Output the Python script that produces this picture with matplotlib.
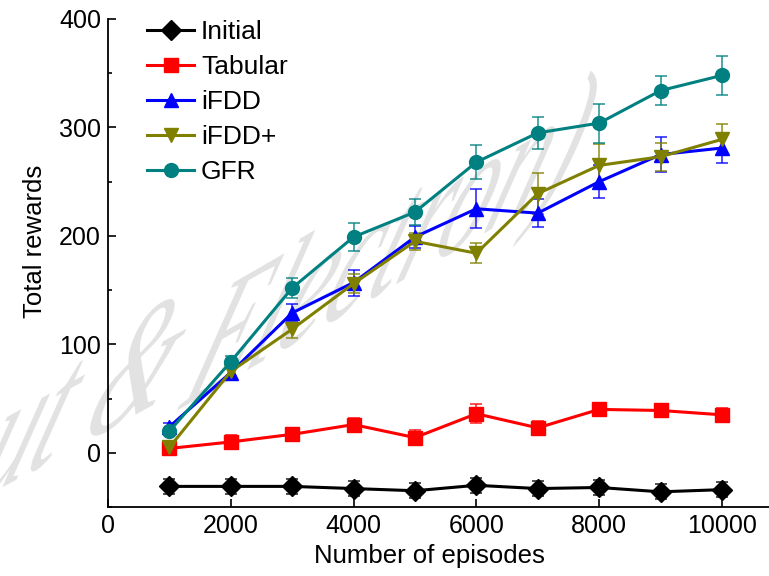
import matplotlib
matplotlib.use('Agg')
import matplotlib.pyplot as plt
from matplotlib.textpath import TextPath
from matplotlib.patches import PathPatch
from matplotlib.font_manager import FontProperties
from matplotlib.transforms import Affine2D

plt.rcParams['font.family'] = ['Liberation Sans', 'DejaVu Sans']

episodes = [1000, 2000, 3000, 4000, 5000, 6000, 7000, 8000, 9000, 10000]

initial = [-31, -31, -31, -33, -35, -30, -33, -32, -36, -34]
initial_err = [7, 7, 7, 7, 7, 7, 7, 7, 7, 7]

tabular = [4, 10, 17, 26, 14, 36, 23, 40, 39, 35]
tabular_err = [6, 6, 6, 6, 7, 9, 6, 6, 6, 6]

ifdd = [24, 74, 129, 157, 199, 225, 221, 250, 275, 281]
ifdd_err = [3, 4, 8, 12, 10, 18, 13, 15, 16, 14]

ifdd_plus = [5, 75, 114, 156, 195, 184, 239, 265, 273, 289]
ifdd_plus_err = [3, 4, 8, 9, 8, 9, 19, 20, 13, 14]

gfr = [20, 84, 152, 199, 222, 268, 295, 304, 334, 348]
gfr_err = [3, 5, 9, 13, 12, 16, 15, 18, 13, 18]

series = [
    ('Initial', initial, initial_err, 'black', 'D'),
    ('Tabular', tabular, tabular_err, '#ff0000', 's'),
    ('iFDD', ifdd, ifdd_err, '#0000ff', '^'),
    ('iFDD+', ifdd_plus, ifdd_plus_err, '#808000', 'v'),
    ('GFR', gfr, gfr_err, '#008080', 'o'),
]

W, H = 769, 576
fig = plt.figure(figsize=(W / 100, H / 100), dpi=100)
ax = fig.add_axes([108 / W, 69 / H, 1 - 108 / W, 488 / H])
ax.patch.set_alpha(0)

# watermark: sheared grey serif text behind the plot (pixel coords)
wm_font = FontProperties(family='Liberation Serif', style='italic')
up = (45 / 66, 122 / 66)        # glyph "up" per font unit
pieces = [("ut &", (-30, 505), (0.877, 0.479), 1.2),
          ("Electron)", (178, 410), (0.866, 0.5), 1.2)]
for txt, (px, py), bdir, scale in pieces:
    tp = TextPath((0, 0), txt, size=100, prop=wm_font)
    tr = Affine2D.from_values(bdir[0] * scale, bdir[1] * scale, up[0], up[1], px, H - py)
    wm = PathPatch(tp, facecolor='#e2e2e2', edgecolor='none', zorder=-1)
    fig.add_artist(wm)
    wm.set_transform(tr)

for name, vals, err, col, mk in series:
    ax.errorbar(episodes, vals, yerr=err, fmt='none', ecolor=col, alpha=0.75,
                elinewidth=1.3, capsize=4.5, capthick=1.3, zorder=2)
    ax.plot(episodes, vals, color=col, marker=mk, markersize=10,
            linewidth=2.2, label=name, zorder=3)

ax.set_xlim(0, 10766)
ax.set_ylim(-50, 400)
ax.set_xticks([0, 2000, 4000, 6000, 8000, 10000])
ax.set_yticks([0, 100, 200, 300, 400])
ax.set_yticks([-50, 50, 150, 250, 350], minor=True)
ax.tick_params(axis='both', which='major', direction='in', length=6, width=1.2,
               labelsize=18, pad=5)
ax.tick_params(axis='y', which='minor', direction='in', length=3, width=1.2)
ax.spines['top'].set_visible(False)
ax.spines['right'].set_visible(False)
ax.spines['left'].set_linewidth(1.3)
ax.spines['bottom'].set_linewidth(1.3)

ax.set_xlabel('Number of episodes', fontsize=18.5)
ax.set_ylabel('Total rewards', fontsize=18.5)
ax.xaxis.set_label_coords(0.487, -0.075)
ax.yaxis.set_label_coords(-0.092, 0.545)

ax.legend(loc='upper left', bbox_to_anchor=(0.043, 1.02), frameon=False, fontsize=19,
          handlelength=1.8, handletextpad=0.25, labelspacing=0.42, numpoints=1,
          borderaxespad=0)

fig.savefig('out.png', dpi=100)
